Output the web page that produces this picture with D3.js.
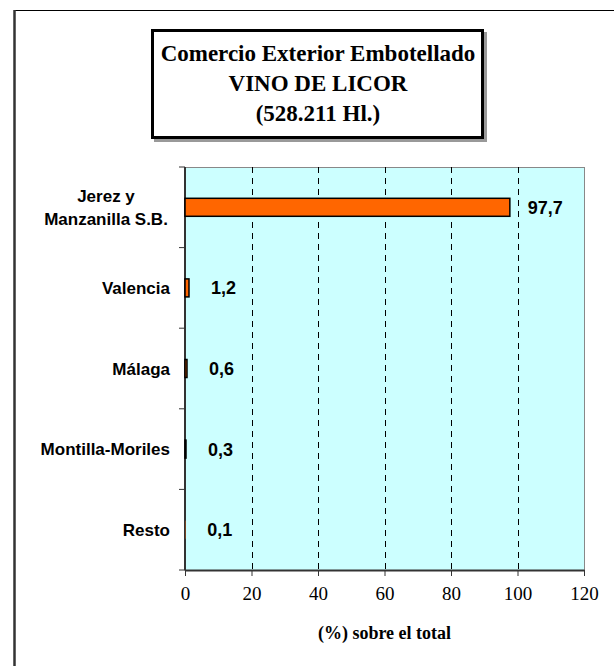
<!DOCTYPE html>
<meta charset="utf-8">
<style>
body { margin: 0; background: #fff; }
svg { display: block; }
.cat { font: bold 17px "Liberation Sans", Arial, sans-serif; fill: #000; }
.val { font: bold 18px "Liberation Sans", Arial, sans-serif; fill: #000; }
.tick text { font: 19px "Liberation Serif", "Times New Roman", serif; fill: #000; }
.title { font: bold 23px "Liberation Serif", "Times New Roman", serif; fill: #000; }
.xlabel { font: bold 18px "Liberation Serif", "Times New Roman", serif; fill: #000; }
</style>
<svg width="614" height="666"></svg>
<script src="https://cdn.jsdelivr.net/npm/d3@7/dist/d3.min.js"></script>
<script>
var categories = ["Jerez y|Manzanilla S.B.", "Valencia", "Málaga", "Montilla-Moriles", "Resto"];
var values = [97.7, 1.2, 0.6, 0.3, 0.1];
var valueLabels = ["97,7", "1,2", "0,6", "0,3", "0,1"];
var xTicks = [0, 20, 40, 60, 80, 100, 120];
var titleLines = ["Comercio Exterior Embotellado", "VINO DE LICOR", "(528.211 Hl.)"];

var svg = d3.select("svg");

// outer chart frame
svg.append("rect")
    .attr("x", 14.5).attr("y", 10.5)
    .attr("width", 620).attr("height", 680)
    .attr("fill", "none").attr("stroke", "#000").attr("stroke-width", 1);
svg.append("line")
    .attr("x1", 14.5).attr("x2", 14.5).attr("y1", 10).attr("y2", 666)
    .attr("stroke", "#333").attr("stroke-width", 2.5);

var pLeft = 185, pRight = 584, pTop = 167, pBottom = 570;

var x = d3.scaleLinear().domain([0, 120]).range([pLeft, pRight]);
var y = d3.scaleBand().domain(d3.range(categories.length)).range([pTop, pBottom]);

// plot area
svg.append("rect")
    .attr("x", pLeft).attr("y", pTop + 0.5)
    .attr("width", pRight - pLeft + 0.5).attr("height", pBottom - pTop)
    .attr("fill", "#ccffff").attr("stroke", "#888").attr("stroke-width", 1);

// gridlines
svg.selectAll(".grid")
    .data(xTicks.filter(function(d) { return d > 0 && d < 120; }))
    .enter().append("line")
    .attr("class", "grid")
    .attr("x1", function(d) { return Math.round(x(d)) + 0.5; })
    .attr("x2", function(d) { return Math.round(x(d)) + 0.5; })
    .attr("y1", pTop).attr("y2", pBottom)
    .attr("stroke", "#000").attr("stroke-width", 1)
    .attr("stroke-dasharray", "6,5");

// x axis
var xAxis = svg.append("g")
    .attr("transform", "translate(0," + pBottom + ")")
    .call(d3.axisBottom(x).tickValues(xTicks).tickSize(6).tickPadding(11).tickSizeOuter(0));
xAxis.select(".domain").attr("stroke", "#333").attr("stroke-width", 2);
xAxis.selectAll(".tick line").attr("stroke", "#333");

// y axis, ticks at band boundaries
var yAxis = svg.append("g").attr("transform", "translate(" + pLeft + ",0)");
yAxis.append("line")
    .attr("x1", 0).attr("x2", 0).attr("y1", pTop).attr("y2", pBottom)
    .attr("stroke", "#333").attr("stroke-width", 2);
yAxis.selectAll(".ytick")
    .data(d3.range(categories.length + 1))
    .enter().append("line")
    .attr("x1", -6).attr("x2", 0)
    .attr("y1", function(i) { return pTop + i * y.step(); })
    .attr("y2", function(i) { return pTop + i * y.step(); })
    .attr("stroke", "#333");

// bars
var barH = 18;
svg.selectAll(".bar")
    .data(values)
    .enter().append("rect")
    .attr("class", "bar")
    .attr("x", x(0))
    .attr("y", function(d, i) { return y(i) + y.bandwidth() / 2 - barH / 2; })
    .attr("width", function(d) { return Math.max(x(d) - x(0), 0.1); })
    .attr("height", barH)
    .attr("fill", "#ff6600")
    .attr("stroke", function(d) { return x(d) - x(0) > 0.5 ? "#000" : "none"; })
    .attr("stroke-width", 1.5);

// value labels
svg.selectAll(".val")
    .data(values)
    .enter().append("text")
    .attr("class", "val")
    .attr("x", function(d) { return x(d) + (d > 50 ? 18 : 22); })
    .attr("y", function(d, i) { return y(i) + y.bandwidth() / 2; })
    .attr("dy", "0.36em")
    .text(function(d, i) { return valueLabels[i]; });

// category labels
categories.forEach(function(c, i) {
    var lines = c.split("|");
    var cy = y(i) + y.bandwidth() / 2;
    var t = svg.append("text").attr("class", "cat")
        .attr("text-anchor", lines.length > 1 ? "middle" : "end");
    lines.forEach(function(l, k) {
        t.append("tspan")
            .attr("x", lines.length > 1 ? 106 : 170)
            .attr("y", cy + (k - (lines.length - 1) / 2) * 23)
            .attr("dy", "0.36em")
            .text(l);
    });
});

// x axis title
svg.append("text").attr("class", "xlabel")
    .attr("x", (pLeft + pRight) / 2).attr("y", 639)
    .attr("text-anchor", "middle")
    .text("(%) sobre el total");

// title box
svg.append("rect")
    .attr("x", 154).attr("y", 32).attr("width", 333).attr("height", 110)
    .attr("fill", "#999");
svg.append("rect")
    .attr("x", 152.5).attr("y", 30.5).attr("width", 330).attr("height", 107)
    .attr("fill", "#fff").attr("stroke", "#000").attr("stroke-width", 3);
svg.selectAll(".title")
    .data(titleLines)
    .enter().append("text")
    .attr("class", "title")
    .attr("x", 318)
    .attr("y", function(d, i) { return 61 + i * 30; })
    .attr("text-anchor", "middle")
    .text(function(d) { return d; });
</script>
